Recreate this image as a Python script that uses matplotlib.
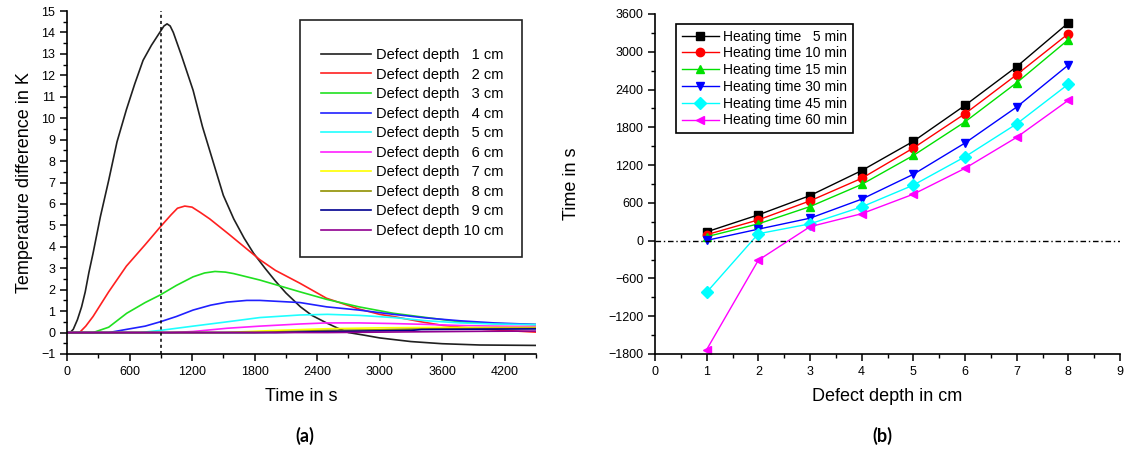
import matplotlib.pyplot as plt
from matplotlib.patches import Rectangle
from matplotlib.ticker import MultipleLocator

plt.rcParams['font.family'] = ['Liberation Sans', 'DejaVu Sans']

# (a) temperature difference vs time for each defect depth
depth_labels = ['Defect depth \u20071 cm', 'Defect depth \u20072 cm', 'Defect depth \u20073 cm',
                'Defect depth \u20074 cm', 'Defect depth \u20075 cm', 'Defect depth \u20076 cm',
                'Defect depth \u20077 cm', 'Defect depth \u20078 cm', 'Defect depth \u20079 cm',
                'Defect depth 10 cm']
depth_colors = ['#202020', '#ff2020', '#20e020', '#2020ff', '#20ffff', '#ff20ff',
                '#ffff00', '#909000', '#000090', '#900090']

t_d1 = [0, 30, 60, 100, 140, 175, 210, 250, 320, 400, 480, 570, 650, 730, 810, 890, 930,
        960, 990, 1020, 1100, 1210, 1300, 1400, 1500, 1600, 1700, 1790, 1900, 2000, 2100,
        2240, 2350, 2490, 2600, 2700, 2850, 3000, 3300, 3600, 3960, 4500]
T_d1 = [0, 0, 0.15, 0.6, 1.2, 1.9, 2.8, 3.7, 5.4, 7.1, 8.9, 10.4, 11.6, 12.7, 13.4, 14.0, 14.3,
        14.4, 14.3, 14.0, 12.9, 11.3, 9.6, 8.0, 6.4, 5.3, 4.4, 3.7, 3.0, 2.4, 1.85,
        1.2, 0.8, 0.45, 0.2, 0.0, -0.12, -0.25, -0.42, -0.52, -0.58, -0.6]
t_d2 = [0, 120, 180, 250, 400, 570, 750, 890, 1000, 1060, 1130, 1200, 1280, 1370, 1550, 1725,
        1850, 2000, 2235, 2490, 2800, 3000, 3130, 3400, 3610, 4000, 4500]
T_d2 = [0, 0, 0.3, 0.75, 1.9, 3.1, 4.1, 4.9, 5.5, 5.8, 5.9, 5.85, 5.6, 5.3, 4.6, 3.9,
        3.4, 2.9, 2.3, 1.6, 1.1, 0.85, 0.75, 0.5, 0.33, 0.15, 0.02]
t_d3 = [0, 250, 400, 573, 750, 893, 1050, 1210, 1320, 1420, 1520, 1600, 1850, 2235, 2490, 2800,
        3130, 3450, 3770, 4100, 4500]
T_d3 = [0, 0, 0.25, 0.9, 1.4, 1.75, 2.2, 2.6, 2.78, 2.85, 2.82, 2.75, 2.45, 1.9, 1.55, 1.2,
        0.9, 0.7, 0.5, 0.42, 0.37]
t_d4 = [0, 400, 573, 750, 893, 1050, 1210, 1380, 1535, 1725, 1850, 2235, 2490, 2800, 3130,
        3450, 3770, 4100, 4500]
T_d4 = [0, 0, 0.15, 0.3, 0.5, 0.75, 1.05, 1.28, 1.42, 1.5, 1.5, 1.4, 1.2, 1.05, 0.85,
        0.68, 0.55, 0.45, 0.38]
t_d5 = [0, 700, 893, 1210, 1535, 1850, 2235, 2500, 2810, 3130, 3450, 3770, 4100, 4500]
T_d5 = [0, 0, 0.1, 0.3, 0.5, 0.7, 0.82, 0.85, 0.8, 0.7, 0.55, 0.45, 0.4, 0.37]
t_d6 = [0, 1000, 1210, 1535, 1850, 2235, 2490, 2800, 3130, 3450, 3770, 4100, 4500]
T_d6 = [0, 0, 0.05, 0.2, 0.3, 0.4, 0.45, 0.45, 0.42, 0.38, 0.33, 0.3, 0.28]
t_d7 = [0, 1500, 2000, 2500, 3000, 3500, 4000, 4500]
T_d7 = [0, 0, 0.1, 0.18, 0.22, 0.24, 0.24, 0.24]
t_d8 = [0, 1800, 2200, 2500, 3000, 3400, 4000, 4500]
T_d8 = [0, 0, 0.06, 0.1, 0.13, 0.17, 0.19, 0.2]
t_d9 = [0, 2000, 2500, 3000, 3300, 3400, 4000, 4500]
T_d9 = [0, 0, 0.05, 0.08, 0.1, 0.14, 0.16, 0.17]
t_d10 = [0, 2500, 3000, 3500, 4000, 4500]
T_d10 = [0, 0, 0.02, 0.04, 0.06, 0.07]

t_all = [t_d1, t_d2, t_d3, t_d4, t_d5, t_d6, t_d7, t_d8, t_d9, t_d10]
T_all = [T_d1, T_d2, T_d3, T_d4, T_d5, T_d6, T_d7, T_d8, T_d9, T_d10]
t_mark = 900

# (b) time of maximum vs defect depth for each heating time
depth_cm = [1, 2, 3, 4, 5, 6, 7, 8]
heat_labels = ['Heating time \u20075 min', 'Heating time 10 min', 'Heating time 15 min',
               'Heating time 30 min', 'Heating time 45 min', 'Heating time 60 min']
heat_5 = [140, 410, 716, 1113, 1578, 2149, 2764, 3459]
heat_10 = [95, 330, 632, 990, 1471, 2016, 2636, 3287]
heat_15 = [63, 267, 541, 893, 1353, 1887, 2508, 3192]
heat_30 = [5, 183, 357, 659, 1054, 1551, 2122, 2790]
heat_45 = [-820, 110, 267, 536, 882, 1332, 1855, 2486]
heat_60 = [-1730, -310, 222, 428, 738, 1149, 1641, 2230]
heat_all = [heat_5, heat_10, heat_15, heat_30, heat_45, heat_60]
heat_colors = ['black', '#ff0000', '#00e000', '#0000ff', '#00ffff', '#ff00ff']
heat_markers = ['s', 'o', '^', 'v', 'D', '<']

W, H = 1125, 454
fig = plt.figure(figsize=(W / 100, H / 100), dpi=100)

def style_axes(ax):
    for side in ['top', 'right']:
        ax.spines[side].set_visible(False)
    for side in ['left', 'bottom']:
        ax.spines[side].set_linewidth(1.2)
    ax.tick_params(which='major', length=5, width=1.1, labelsize=9, direction='out')
    ax.tick_params(which='minor', length=3, width=1.0, direction='out')

ax1 = fig.add_axes([67 / W, 1 - 354 / H, (536 - 67) / W, (354 - 11) / H])
for t, T, c, lab in zip(t_all, T_all, depth_colors, depth_labels):
    ax1.plot(t, T, color=c, lw=1.2, label=lab)
ax1.axvline(t_mark, color='black', lw=1.1, ls=(0, (2, 2)))
ax1.set_xlim(0, 4500)
ax1.set_ylim(-1, 15)
ax1.xaxis.set_major_locator(MultipleLocator(600))
ax1.xaxis.set_minor_locator(MultipleLocator(300))
ax1.yaxis.set_major_locator(MultipleLocator(1))
ax1.yaxis.set_minor_locator(MultipleLocator(0.5))
style_axes(ax1)
ax1.set_xlabel('Time in s', fontsize=13, labelpad=7)
ax1.set_ylabel('Temperature difference in K', fontsize=13, labelpad=6)
ax1.legend(loc='upper left', bbox_to_anchor=(321 / W, 1 - 48 / H), bbox_transform=fig.transFigure,
           frameon=False, borderpad=0, borderaxespad=0, fontsize=10.5, labelspacing=0.38,
           handlelength=3.4, handletextpad=0.35)
fig.patches.append(Rectangle((300 / W, 1 - 257 / H), 222 / W, 237 / H, transform=fig.transFigure,
                             fill=False, edgecolor='#222222', lw=1.2))

ax2 = fig.add_axes([655 / W, 1 - 354 / H, (1120 - 655) / W, (354 - 14) / H])
for vals, c, m, lab in zip(heat_all, heat_colors, heat_markers, heat_labels):
    ax2.plot(depth_cm, vals, color=c, lw=1.0, marker=m, markersize=6, label=lab)
ax2.axhline(0, color='black', lw=1.0, ls=(0, (4, 2, 1, 2)))
ax2.set_xlim(0, 9)
ax2.set_ylim(-1800, 3600)
ax2.xaxis.set_major_locator(MultipleLocator(1))
ax2.xaxis.set_minor_locator(MultipleLocator(0.5))
ax2.yaxis.set_major_locator(MultipleLocator(600))
ax2.yaxis.set_minor_locator(MultipleLocator(300))
style_axes(ax2)
ax2.set_xlabel('Defect depth in cm', fontsize=13, labelpad=7)
ax2.set_ylabel('Time in s', fontsize=13, labelpad=20)
leg2 = ax2.legend(loc='upper left', bbox_to_anchor=(676 / W, 1 - 24 / H), bbox_transform=fig.transFigure,
                  fancybox=False, edgecolor='black', framealpha=1, borderpad=0.4, borderaxespad=0,
                  fontsize=10, labelspacing=0.2, handlelength=2.7, handletextpad=0.3)
leg2.get_frame().set_linewidth(1.2)

fig.text(305 / W, 1 - 436 / H, '(a)', fontsize=13, fontweight='bold', family='Lato', ha='center', va='center')
fig.text(882 / W, 1 - 436 / H, '(b)', fontsize=13, fontweight='bold', family='Lato', ha='center', va='center')

fig.savefig('out.png', dpi=100)
